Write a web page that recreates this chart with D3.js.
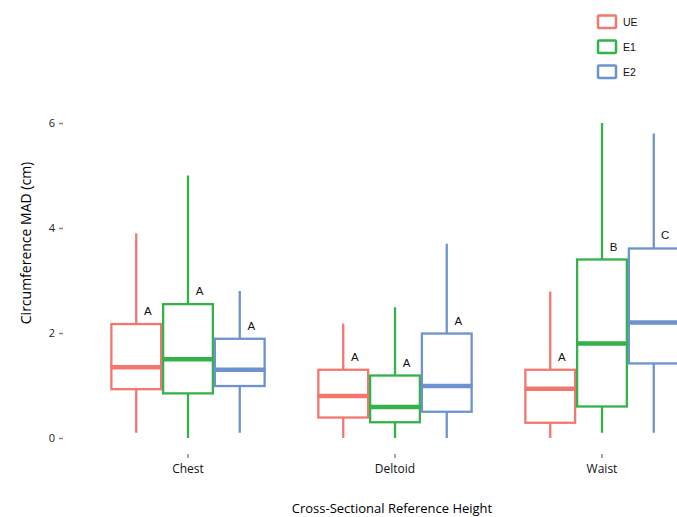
<!DOCTYPE html>
<html><head><meta charset="utf-8">
<script src="https://cdn.jsdelivr.net/npm/d3@7"></script>
<style>body{margin:0;background:#fff}svg{display:block}</style>
</head><body>
<script>
const categories = ["Chest", "Deltoid", "Waist"];
const groups = ["UE", "E1", "E2"];
const colors = ["#F2786F", "#33B24A", "#6C93CF"];
// per group: [whiskerLow, q1, median, q3, whiskerHigh] for Chest, Deltoid, Waist
const UE = [[0.1, 0.93, 1.35, 2.17, 3.9], [0.0, 0.39, 0.80, 1.30, 2.18], [0.0, 0.29, 0.94, 1.30, 2.79]];
const E1 = [[0.0, 0.85, 1.50, 2.55, 5.0], [0.0, 0.30, 0.59, 1.19, 2.49], [0.1, 0.60, 1.80, 3.40, 6.0]];
const E2 = [[0.1, 0.99, 1.30, 1.89, 2.8], [0.0, 0.50, 0.99, 1.99, 3.7], [0.1, 1.42, 2.20, 3.61, 5.8]];
const letters = [["A", "A", "A"], ["A", "A", "A"], ["A", "B", "C"]]; // [category][group]
const yTicks = [0, 2, 4, 6];
const yTitle = "Circumference MAD (cm)";
const xTitle = "Cross-Sectional Reference Height";

const series = [UE, E1, E2];
const W = 677, H = 517;
const svg = d3.select("body").append("svg").attr("width", W).attr("height", H);

const x = d3.scaleBand().domain(categories).range([63.8, 726.2]).paddingInner(0).paddingOuter(0.1);
const dodge = 0.75 * x.bandwidth();
const xs = d3.scaleBand().domain(groups).range([-dodge / 2, dodge / 2]);
const y = d3.scaleLinear().domain([-0.3, 6.3]).range([453.75, 107.25]);

const axisFont = "'Open Sans', 'DejaVu Sans', sans-serif";
const markFont = "'Liberation Sans', Arial, sans-serif";

// y axis
const yAxis = svg.append("g").attr("transform", "translate(63,0)")
  .call(d3.axisLeft(y).tickValues(yTicks).tickSize(4).tickPadding(4).tickFormat(d3.format("d")));
yAxis.select(".domain").remove();
yAxis.selectAll(".tick line").attr("stroke", "#888").attr("stroke-width", 1.5);
yAxis.selectAll(".tick text").attr("font-family", axisFont).attr("font-size", 11).attr("fill", "#222");

// x axis
const xAxis = svg.append("g").attr("transform", "translate(0,454)")
  .call(d3.axisBottom(x).tickSize(4).tickPadding(6));
xAxis.select(".domain").remove();
xAxis.selectAll(".tick line").attr("stroke", "#888").attr("stroke-width", 1.5);
xAxis.selectAll(".tick text").attr("font-family", axisFont).attr("font-size", 12).attr("fill", "#111");

// boxes
groups.forEach((g, gi) => {
  const col = colors[gi];
  const gg = svg.append("g");
  categories.forEach((c, ci) => {
    const [lo, q1, med, q3, hi] = series[gi][ci];
    const x0 = x(c) + x.bandwidth() / 2 + xs(g);
    const bw = xs.bandwidth();
    const cx = x0 + bw / 2;
    gg.append("line").attr("x1", cx).attr("x2", cx).attr("y1", y(hi)).attr("y2", y(q3))
      .attr("stroke", col).attr("stroke-width", 2.3);
    gg.append("line").attr("x1", cx).attr("x2", cx).attr("y1", y(q1)).attr("y2", y(lo))
      .attr("stroke", col).attr("stroke-width", 2.3);
    gg.append("rect").attr("x", x0 + 1).attr("y", y(q3)).attr("width", bw - 2).attr("height", y(q1) - y(q3))
      .attr("fill", "#fff").attr("stroke", col).attr("stroke-width", 2.3);
    gg.append("line").attr("x1", x0).attr("x2", x0 + bw).attr("y1", y(med)).attr("y2", y(med))
      .attr("stroke", col).attr("stroke-width", 4.5);
    svg.append("text").attr("x", cx + 11.5).attr("y", y(q3) - 9)
      .attr("text-anchor", "middle").attr("font-family", markFont).attr("font-size", 11.5)
      .attr("fill", "#111").text(letters[ci][gi]);
  });
});

// titles
svg.append("text").attr("transform", "translate(31,243) rotate(-90)").attr("text-anchor", "middle")
  .attr("font-family", axisFont).attr("font-size", 14).attr("fill", "#000").text(yTitle);
svg.append("text").attr("x", 392).attr("y", 513).attr("text-anchor", "middle")
  .attr("font-family", axisFont).attr("font-size", 13).attr("fill", "#000").text(xTitle);

// legend
const leg = svg.append("g");
groups.forEach((g, gi) => {
  leg.append("rect").attr("x", 598).attr("y", 15.5 + gi * 25).attr("width", 18).attr("height", 12.5)
    .attr("fill", "#fff").attr("stroke", colors[gi]).attr("stroke-width", 2.5).attr("rx", 1);
  leg.append("text").attr("x", 623).attr("y", 26 + gi * 25).attr("font-family", markFont)
    .attr("font-size", 10.5).attr("fill", "#111").text(g);
});
</script>
</body></html>
